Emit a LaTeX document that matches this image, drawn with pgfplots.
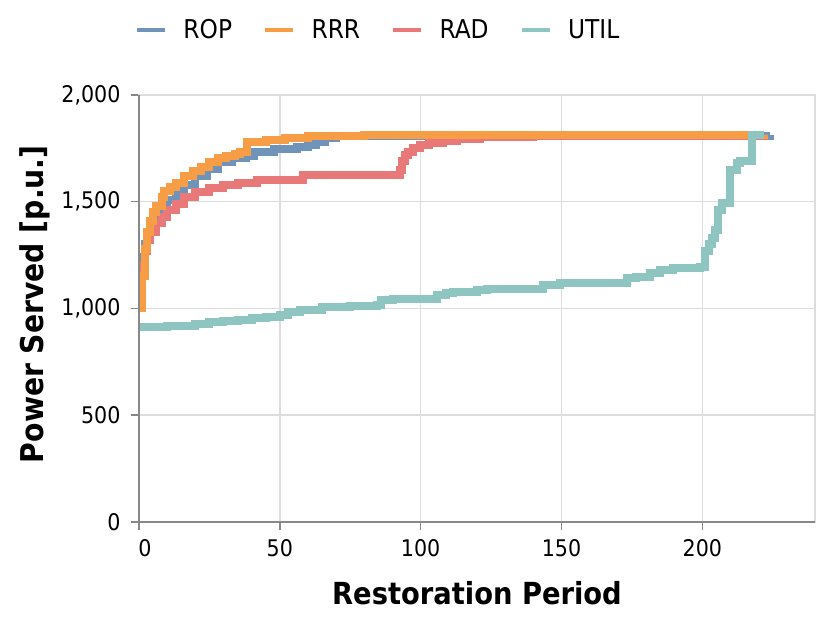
\documentclass[border=0pt]{standalone}
\usepackage{fontspec}
\setmainfont{DejaVu Sans Condensed}
\usepackage{pgfplots}
\pgfplotsset{compat=1.18}
% Vega tableau colours at 80 % over white
\definecolor{cROP}{HTML}{7093B9}
\definecolor{cRRR}{HTML}{F79D46}
\definecolor{cRAD}{HTML}{E97978}
\definecolor{cUTIL}{HTML}{8EC5C1}
\definecolor{gridc}{HTML}{DDDDDD}
\definecolor{axisc}{HTML}{888888}

\begin{document}
\begin{tikzpicture}
\begin{axis}[
    name=ax,
    scale only axis,
    width=676bp, height=427bp,
    xmin=0, xmax=240, ymin=0, ymax=2000,
    xtick={0,50,...,200}, ytick={0,500,...,2000},
    grid=major,
    major grid style={color=gridc, line width=1.5bp},
    axis line style={color=gridc, line width=1.5bp},
    tick align=outside, tick pos=left,
    major tick length=8bp,
    tick style={color=axisc, line width=1.5bp},
    /pgf/number format/.cd, 1000 sep={,}, assume math mode=true,
    /pgfplots/.cd,
    tick label style={font=\fontsize{23}{25}\selectfont, text=black},
    yticklabel style={xshift=-7bp},
    xticklabel style={yshift=-6bp},
    xticklabel={\ifdim\tick pt<1pt\hspace*{12bp}\fi\pgfmathprintnumber{\tick}},
    every axis y label/.style={at={(axis description cs:-0.1538,0.51)}, rotate=90, anchor=center,
        font=\bfseries\fontsize{31.5}{33}\selectfont},
    every axis x label/.style={at={(axis description cs:0.5,-0.166)}, anchor=center,
        font=\bfseries\fontsize{30.5}{32}\selectfont},
    xlabel={Restoration Period},
    ylabel={Power Served [p.u.]},
    legend columns=-1,
    legend style={draw=none, fill=none, inner sep=0pt, outer sep=0pt,
        at={(0,1)}, anchor=west, yshift=65bp, xshift=-4bp,
        font=\fontsize{26}{28}\selectfont,
        nodes={inner sep=0pt},
        /tikz/every odd column/.append style={column sep=16bp},
        /tikz/every even column/.append style={column sep=31bp}},
    legend image code/.code={\draw[#1, line width=4.5bp] (0bp,0bp) -- (28bp,0bp);},
    every axis plot/.append style={const plot, mark=none, line width=8bp,
        line join=miter},
]
% ROP
\addplot[cROP] coordinates {
    (0,1050) (0.5,1150) (1,1240) (2,1300) (3,1340) (4,1380) (5,1410) (6,1440)
    (8,1480) (10,1510) (13,1545) (16,1580) (20,1620) (24,1655) (28,1685)
    (33,1705) (38,1715) (41,1735) (48,1745) (56,1755) (60,1768) (63,1782)
    (66,1798) (70,1806) (80,1810) (224,1812)
};
% RAD (drawn beneath RRR)
\addplot[cRAD, forget plot] coordinates {
    (0,1050) (1,1200) (2,1270) (3,1320) (4,1360) (6,1400) (8,1430) (10,1460)
    (13,1490) (16,1520) (20,1545) (25,1565) (30,1580) (35,1590) (42,1600)
    (58.2,1625) (92.7,1650) (93.5,1690) (94.5,1720) (95.5,1735) (97.4,1752)
    (99.8,1766) (103,1777) (108,1785) (113,1795) (121,1805) (140,1809)
    (222,1810)
};
% RRR
\addplot[cRRR] coordinates {
    (0,1000) (1,1150) (2,1280) (3,1360) (4,1410) (5,1450) (6,1480) (8,1520)
    (9,1550) (11,1570) (13,1590) (16,1620) (19,1645) (22,1665) (25,1685)
    (28,1703) (31,1715) (34,1725) (36,1735) (38.3,1780) (45,1790) (52,1800)
    (60,1806) (80,1812) (222,1813)
};
\addlegendimage{cRAD}
% UTIL
\addplot[cUTIL] coordinates {
    (0,913) (10,918) (20,928) (25,935) (30,942) (35,948) (40,955) (45,962)
    (50,968) (53,985) (57,995) (65,1005) (75,1010) (84.5,1015) (86,1040)
    (90,1045) (105.8,1063) (109,1074) (111.6,1079) (120,1087) (123.5,1090)
    (143.5,1110) (149.5,1118) (173.1,1141) (176.6,1149) (181.4,1168)
    (185,1180) (189.6,1188) (199,1195) (201,1270) (202.5,1300) (203.5,1330)
    (204.5,1370) (205.6,1460) (207,1495) (209.8,1650) (212.2,1680)
    (213.5,1690) (217.5,1812) (222,1812)
};
\legend{ROP, RRR, RAD, UTIL}
\end{axis}
\draw[axisc, line width=1.5bp] (ax.north west) -- (ax.south west) -- (ax.south east);
\path[use as bounding box] (ax.south west) ++(-139bp,-101bp) rectangle ++(830bp,623bp);
\end{tikzpicture}
\end{document}
